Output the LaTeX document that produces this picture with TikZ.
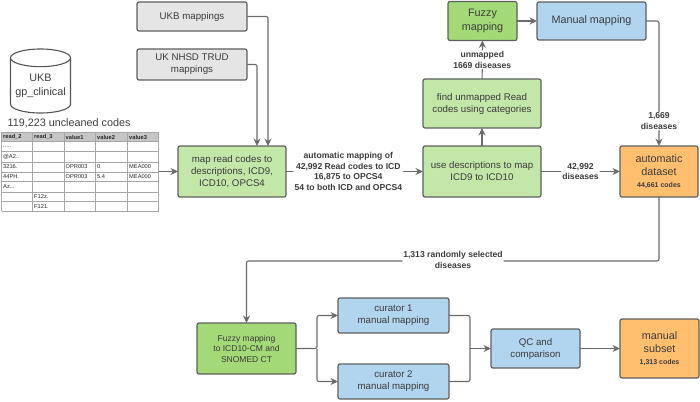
\documentclass[tikz,border=0pt]{standalone}
\usepackage{fontspec}
\setmainfont{Liberation Sans}
\usetikzlibrary{arrows.meta,shapes.geometric}
\definecolor{edgegray}{HTML}{6A6A6A}
\definecolor{inkgray}{HTML}{3C3C3C}
\definecolor{greylight}{HTML}{E5E5E5}
\definecolor{greenlight}{HTML}{C3E6A9}
\definecolor{greendark}{HTML}{A3D977}
\definecolor{bluelight}{HTML}{B1D4EF}
\definecolor{orangelight}{HTML}{FFBF6F}
\newcommand\celldots{.\kern0pt.\kern0pt.\kern0pt.\kern0pt.}
\newcommand\cellaz{Az.\kern0pt.\kern0pt.}
\newcommand\cellat{@A2.\kern0pt.}
\tikzset{
box/.style={draw=edgegray!90!black,line width=1.2pt,rounded corners=2pt,align=center,inner sep=0pt,outer sep=0pt,text=inkgray,font=\fontsize{9.7}{12}\selectfont},
bigbox/.style={box,font=\fontsize{10.8}{13.2}\selectfont},
conn/.style={edgegray,line width=1.1pt,rounded corners=2pt},
edgelabel/.style={fill=white,inner sep=1pt,align=center,text=inkgray,font=\fontsize{8.6}{10.4}\selectfont\bfseries},
cell/.style={anchor=west,inner sep=0pt,text=black!85,font=\fontsize{5.7}{6}\selectfont},
headcell/.style={cell,font=\fontsize{5.7}{6}\selectfont\bfseries},
}
\begin{document}
\begin{tikzpicture}[x=1pt,y=-1pt,>={Stealth[length=7.5pt,width=7pt]},line join=round]
\useasboundingbox (0,0) rectangle (700,401);
\node[box,fill=greylight,minimum width=110,minimum height=29] (ukb) at (192,16.5) {UKB mappings};
\node[box,fill=greylight,minimum width=110,minimum height=31] (trud) at (192,64.5) {UK NHSD TRUD\\mappings};
\node[box,fill=greenlight,minimum width=108,minimum height=51] (map) at (232,171.5) {map read codes to\\descriptions, ICD9,\\ICD10, OPCS4};
\node[box,fill=greenlight,minimum width=118,minimum height=51] (desc) at (482,171.5) {use descriptions to map\\ICD9 to ICD10};
\node[box,fill=greenlight,minimum width=118,minimum height=49] (find) at (482,103.5) {find unmapped Read\\codes using categories};
\node[bigbox,fill=greendark,minimum width=69,minimum height=39] (fuzzy) at (482.5,21) {Fuzzy\\mapping};
\node[bigbox,fill=bluelight,minimum width=109,minimum height=38] (manual) at (591.5,21) {Manual mapping};
\node[bigbox,fill=orangelight,minimum width=78,minimum height=51] (auto) at (659,171.5) {automatic\\dataset\\[-2pt]{\fontsize{7}{8}\selectfont\bfseries 44,661 codes}};
\node[box,fill=greendark,minimum width=99,minimum height=51,font=\fontsize{8.5}{10.5}\selectfont] (fuzzyb) at (246.5,348.5) {Fuzzy mapping\\to ICD10-CM and\\SNOMED CT};
\node[box,fill=bluelight,minimum width=111,minimum height=35] (cura) at (393.5,315.5) {curator 1\\manual mapping};
\node[box,fill=bluelight,minimum width=111,minimum height=35] (curb) at (393.5,381.5) {curator 2\\manual mapping};
\node[box,fill=bluelight,minimum width=89,minimum height=39] (qc) at (535.5,348.5) {QC and\\comparison};
\node[bigbox,fill=orangelight,minimum width=79,minimum height=59] (subset) at (659.5,348.5) {manual\\subset\\[-2pt]{\fontsize{7}{8}\selectfont\bfseries 1,313 codes}};
\node[draw=edgegray!80!black,line width=1.1pt,cylinder,shape border rotate=90,aspect=.35,minimum width=60,minimum height=64,inner sep=0pt,outer sep=0pt,anchor=shape center,align=center,text=inkgray,font=\fontsize{10.8}{14}\selectfont] (ukbdb) at (40.5,81) {UKB\\gp\_clinical};
\node[text=inkgray,font=\fontsize{10.8}{14}\selectfont,inner sep=0pt] (uncleaned) at (69,123) {119,223 uncleaned codes};
\fill[gray!45] (1.5,132) rectangle (158.5,141.7);
\node[minimum width=157,minimum height=79,inner sep=0pt,outer sep=0pt] (codes) at (80,171.5) {};
\foreach \yy in {132,141.7,151.7,162,172,181.7,192,201.3,211}
\draw[gray!70,line width=.5pt] (1.5,\yy)--(158.5,\yy);
\foreach \xx in {1.5,32.3,64,95.3,127.3,158.5}
\draw[gray!70,line width=.5pt] (\xx,132)--(\xx,211);
\foreach \p/\x/\y/\t in {ha/3/137/read\_2,hb/34/137/read\_3,hc/65.5/137/value1,hd/97/137/value2,he/129/137/value3}
\node[headcell] (\p) at (\x,\y) {\t};
\foreach \p/\x/\y/\t in {ra/3/147/\celldots,rb/3/157/\cellat,rc/3/167/3216.,rd/3/177/44PH.,re/3/187/\cellaz,rf/34/197/F12z.,rg/34/206.5/F121.,rh/65.5/167/OPR003,ri/65.5/177/OPR003,rj/97/167/0,rk/97/177/5.4,rl/129/167/MEA000,rm/129/177/MEA000}
\node[cell] (\p) at (\x,\y) {\t};
\path (268,146) coordinate (ukbin) (257,146) coordinate (trudin) (453,261) coordinate (turn) (317,348.5) coordinate (split) (470,348.5) coordinate (merge);
\draw[conn,->] (codes)--(map);
\draw[conn,->] (ukb.east)-|(ukbin);
\draw[conn,->] (trud.east)-|(trudin);
\draw[conn,->] (map)--node[edgelabel,pos=.455]{automatic mapping of\\42,992 Read codes to ICD\\16,875 to OPCS4\\54 to both ICD and OPCS4}(desc);
\draw[conn,->] (desc)--(find);
\draw[conn,->] (find)--node[edgelabel]{unmapped\\1669 diseases}(fuzzy);
\draw[conn,->] (fuzzy)--(manual);
\draw[conn,->] (manual.east)-|node[edgelabel,pos=.9]{1,669\\diseases}(auto.north);
\draw[conn,->] (desc)--node[edgelabel]{42,992\\diseases}(auto);
\draw[conn,->] (auto.south)|-(turn)node[edgelabel,yshift=1pt]{1,313 randomly selected\\diseases}-|(fuzzyb.north);
\draw[conn,->] (fuzzyb.east)--(split)|-(cura.west);
\draw[conn,->] (split)|-(curb.west);
\draw[conn] (cura.east)-|(merge);
\draw[conn] (curb.east)-|(merge);
\draw[conn,->] (merge)--(qc.west);
\draw[conn,->] (qc)--(subset);
\end{tikzpicture}
\end{document}
